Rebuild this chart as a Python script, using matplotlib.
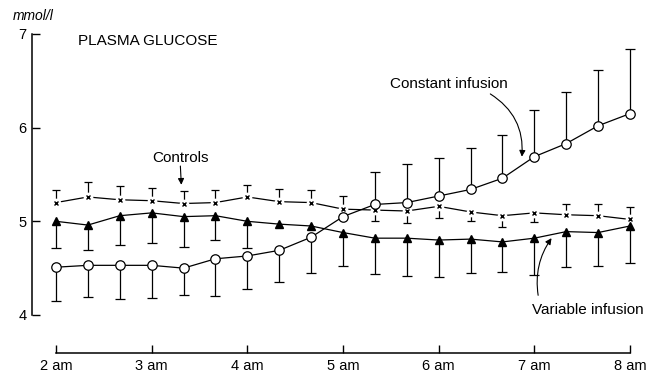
import numpy as np
import matplotlib
matplotlib.use('Agg')
import matplotlib.pyplot as plt

plt.rcParams['font.family'] = ['Liberation Sans', 'DejaVu Sans']

# time in hours, every 20 min from 2 am to 8 am
hours = np.arange(19) / 3.0 + 2
xtick_pos = [2, 3, 4, 5, 6, 7, 8]
xtick_lab = ['2 am', '3 am', '4 am', '5 am', '6 am', '7 am', '8 am']

# constant infusion (open circles)
const = np.array([4.51, 4.53, 4.53, 4.53, 4.50, 4.60, 4.63, 4.69, 4.83, 5.05,
                  5.18, 5.20, 5.27, 5.34, 5.46, 5.69, 5.83, 6.02, 6.15])
const_lo = np.array([0.36, 0.34, 0.36, 0.35, 0.29, 0.40, 0.35, 0.34, 0.38, 0,
                     0, 0, 0, 0, 0, 0, 0, 0, 0])
const_hi = np.array([0, 0, 0, 0, 0, 0, 0, 0, 0, 0,
                     0.35, 0.41, 0.41, 0.44, 0.46, 0.50, 0.55, 0.60, 0.69])

# variable infusion (filled triangles)
var = np.array([5.00, 4.96, 5.06, 5.09, 5.05, 5.06, 5.00, 4.97, 4.95, 4.88,
                4.82, 4.82, 4.80, 4.81, 4.78, 4.82, 4.89, 4.88, 4.95])
var_lo = np.array([0.28, 0.27, 0.31, 0.32, 0.32, 0.26, 0.29, 0, 0, 0.36,
                   0.38, 0.40, 0.39, 0.36, 0.32, 0.39, 0.38, 0.36, 0.39])
var_hi = np.zeros(19)

# controls (crosses)
ctrl = np.array([5.20, 5.26, 5.23, 5.22, 5.19, 5.20, 5.26, 5.21, 5.20, 5.13,
                 5.12, 5.11, 5.16, 5.10, 5.06, 5.09, 5.07, 5.06, 5.02])
ctrl_lo = np.array([0, 0, 0, 0, 0, 0, 0, 0, 0, 0,
                    0.12, 0.13, 0.12, 0.10, 0.12, 0.10, 0, 0, 0])
ctrl_hi = np.array([0.13, 0.16, 0.15, 0.14, 0.13, 0.13, 0.13, 0.14, 0.13, 0.14,
                    0, 0, 0, 0, 0, 0, 0.12, 0.12, 0.13])


def bars(ax, t, y, lo, hi, cap=7):
    # one-sided error bars with flat caps
    for sign, err in ((-1, lo), (1, hi)):
        m = err > 0
        end = y[m] + sign * err[m]
        ax.vlines(t[m], y[m], end, color='k', lw=0.9, zorder=1)
        ax.plot(t[m], end, ls='none', marker='_', ms=cap, mew=0.9, color='k', zorder=1)


fig = plt.figure(figsize=(6.47, 3.80), dpi=100)
ax = fig.add_axes([32/647, 27/380, 613/647, 328/380])
ax.set_xlim(1.749, 8.157)
ax.set_ylim(3.594, 7.096)

bars(ax, hours, const, const_lo, const_hi)
bars(ax, hours, var, var_lo, var_hi)
bars(ax, hours, ctrl, ctrl_lo, ctrl_hi, cap=5.5)

ax.plot(hours, ctrl, color='k', lw=0.9, zorder=2)
ax.plot(hours, ctrl, ls='none', marker='o', ms=7, mfc='white', mec='none', zorder=3)
ax.plot(hours, ctrl, ls='none', marker='x', ms=3.5, mew=1.0, color='k', zorder=4)

ax.plot(hours, var, color='k', lw=0.9, marker='^', ms=6, zorder=5)
ax.plot(hours, const, color='k', lw=0.9, marker='o', ms=6.8, mfc='white',
        mec='k', mew=0.9, zorder=6)

for s in ['top', 'right']:
    ax.spines[s].set_visible(False)
ax.spines['left'].set_bounds(4, 7)
ax.spines['bottom'].set_bounds(2, 8)
ax.spines['left'].set_linewidth(1.1)
ax.spines['bottom'].set_linewidth(1.1)

ax.set_yticks([4, 5, 6, 7])
ax.set_xticks(xtick_pos)
ax.set_xticklabels(xtick_lab)
ax.tick_params(direction='in', length=6, width=1.0, labelsize=10.5)
ax.tick_params(axis='y', pad=4)
ax.tick_params(axis='x', pad=4)

ax.text(1.55, 7.19, 'mmol/l', style='italic', fontsize=10, ha='left', va='center',
        clip_on=False)
ax.text(2.23, 6.92, 'PLASMA GLUCOSE', fontsize=11, ha='left', va='center')
ax.text(3.30, 5.68, 'Controls', fontsize=11, ha='center', va='center')
ax.text(6.11, 6.47, 'Constant infusion', fontsize=11, ha='center', va='center')
ax.text(7.56, 4.05, 'Variable infusion', fontsize=11, ha='center', va='center')

arrow = dict(arrowstyle='-|>', color='k', lw=0.8, mutation_scale=9, shrinkA=0, shrinkB=0)
ax.annotate('', xy=(3.31, 5.39), xytext=(3.30, 5.59),
            arrowprops=dict(arrow, connectionstyle='arc3,rad=0'))
ax.annotate('', xy=(6.87, 5.69), xytext=(6.54, 6.36),
            arrowprops=dict(arrow, connectionstyle='arc3,rad=-0.3'))
ax.annotate('', xy=(7.18, 4.82), xytext=(7.04, 4.21),
            arrowprops=dict(arrow, connectionstyle='arc3,rad=-0.2'))

fig.savefig('out.png', dpi=100)
